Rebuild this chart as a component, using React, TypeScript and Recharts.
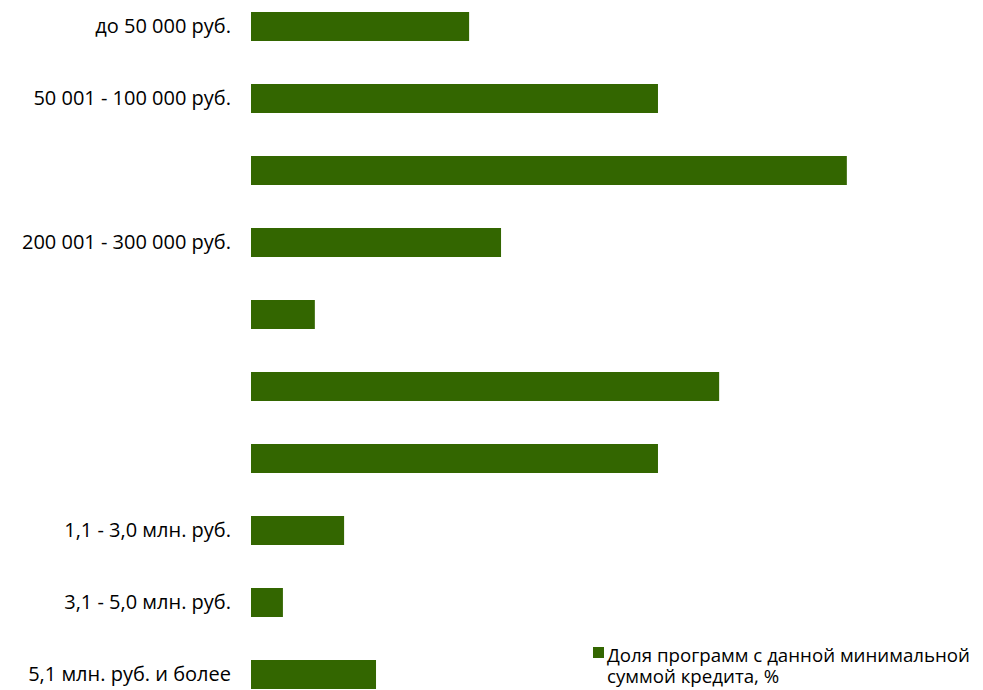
import { BarChart, Bar, XAxis, YAxis } from 'recharts';

// размер кредита (подписи, скрытые в оригинале, оставлены пустыми)
const categories = ['c1', 'c2', 'c3', 'c4', 'c5', 'c6', 'c7', 'c8', 'c9', 'c10'];
const tickLabels = [
  'до 50 000 руб.',
  '50 001 - 100 000 руб.',
  '',
  '200 001 - 300 000 руб.',
  '',
  '',
  '',
  '1,1 - 3,0 млн. руб.',
  '3,1 - 5,0 млн. руб.',
  '5,1 млн. руб. и более',
];
const shares = [8.2, 15.3, 22.4, 9.4, 2.4, 17.6, 15.3, 3.5, 1.2, 4.7];

const seriesName = 'Доля программ с данной минимальной суммой кредита, %';
const legendLines = ['Доля программ с данной минимальной', 'суммой кредита, %'];

const GREEN = '#336600';
const FONT = '"Open Sans", sans-serif';

const data = categories.map((c, i) => ({ id: c, label: tickLabels[i], value: shares[i] }));

export default function App() {
  return (
    <div style={{ position: 'absolute', left: 0, top: 0, width: 983, height: 690, overflow: 'hidden' }}>
      <div style={{ position: 'absolute', left: 0, top: -10 }}>
        <BarChart
          width={983}
          height={720}
          data={data}
          layout="vertical"
          margin={{ top: 0, right: 67, bottom: 0, left: 0 }}
        >
          <XAxis type="number" domain={[0, 25]} hide />
          <YAxis
            type="category"
            dataKey="label"
            width={251}
            axisLine={false}
            tickLine={false}
            tickMargin={14}
            interval={0}
            tick={{ fill: '#000', fontSize: 20, fontFamily: FONT }}
          />
          <Bar dataKey="value" name={seriesName} fill={GREEN} barSize={29} isAnimationActive={false} />
        </BarChart>
      </div>
      {/* легенда */}
      <div style={{ position: 'absolute', left: 593, top: 644, fontFamily: FONT, fontSize: 18.7, lineHeight: '21px', color: '#000' }}>
        <span style={{ position: 'absolute', left: 0, top: 3, width: 11, height: 11, background: GREEN }} />
        <div style={{ marginLeft: 14 }}>
          {legendLines.map((l) => (
            <div key={l}>{l}</div>
          ))}
        </div>
      </div>
    </div>
  );
}
